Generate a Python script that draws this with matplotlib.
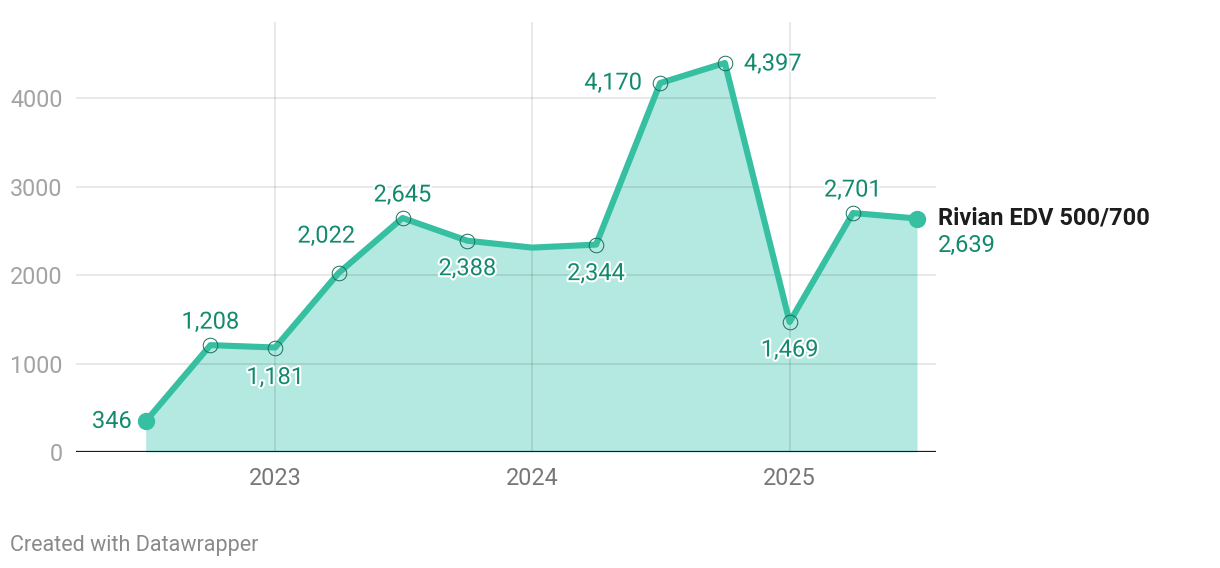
import matplotlib.pyplot as plt
import matplotlib.dates as mdates
import matplotlib.patheffects as pe
import pandas as pd

plt.rcParams['font.family'] = ['Roboto', 'DejaVu Sans']

# quarterly deliveries, Rivian EDV 500/700
quarters = ["2022-07-01", "2022-10-01", "2023-01-01", "2023-04-01", "2023-07-01",
            "2023-10-01", "2024-01-01", "2024-04-01", "2024-07-01", "2024-10-01",
            "2025-01-01", "2025-04-01", "2025-07-01"]
values = [346, 1208, 1181, 2022, 2645, 2388, 2310, 2344, 4170, 4397, 1469, 2701, 2639]
# label offsets in pixels (dx, dy, ha); None = no label
label_pos = [(-14, 0, 'right'), (0, 23, 'center'), (0, -30, 'center'), (-12, 37, 'center'),
             (0, 23, 'center'), (0, -28, 'center'), None, (0, -29, 'center'),
             (-18, 0, 'right'), (19, -1, 'left'), (0, -28, 'center'), (0, 23, 'center'), None]
series_name = "Rivian EDV 500/700"
year_ticks = ["2023-01-01", "2024-01-01", "2025-01-01"]
year_labels = ["2023", "2024", "2025"]

line_col = '#36bfa0'
fill_col = '#b3e9e0'
label_col = '#138a6e'

dates = pd.to_datetime(quarters)
x = mdates.date2num(dates)

fig = plt.figure(figsize=(12.2, 5.68), dpi=100)
ax = fig.add_axes([76 / 1220, 1 - 452 / 568, 860 / 1220, 430 / 568])

ax.fill_between(x, values, 0, color=fill_col, lw=0, zorder=1)
ax.plot(x, values, color=line_col, lw=4.4, solid_joinstyle='round', zorder=3)

# open circles on labeled points, filled ends
for i, (xi, v) in enumerate(zip(x, values)):
    if i in (0, len(values) - 1):
        ax.plot(xi, v, 'o', ms=11.5, color=line_col, zorder=4)
    elif label_pos[i] is not None:
        ax.plot(xi, v, 'o', ms=10.5, mfc='none', mec='#1b6f5c', mew=0.7, zorder=4)

stroke = [pe.withStroke(linewidth=3, foreground='white')]
for xi, v, lp in zip(x, values, label_pos):
    if lp is None:
        continue
    dx, dy, ha = lp
    ax.annotate(f"{v:,}", (xi, v), xytext=(dx, dy), textcoords='offset pixels',
                ha=ha, va='center', fontsize=17, color=label_col,
                path_effects=stroke, zorder=5)

ax.annotate(series_name, (x[-1], values[-1]), xytext=(21, 1), textcoords='offset pixels',
            ha='left', va='center', fontsize=17, fontweight='bold', color='#1d1d1d',
            annotation_clip=False)
ax.annotate(f"{values[-1]:,}", (x[-1], values[-1]), xytext=(21, -27), textcoords='offset pixels',
            ha='left', va='center', fontsize=17, color=label_col, annotation_clip=False)

ax.set_xlim(mdates.date2num(pd.Timestamp("2022-03-24")), mdates.date2num(pd.Timestamp("2025-07-28")))
ax.set_ylim(0, 4860)

ax.set_yticks([0, 1000, 2000, 3000, 4000])
ax.set_yticklabels(["0", "1000", "2000", "3000", "4000"])
ax.set_xticks(mdates.date2num(pd.to_datetime(year_ticks)))
ax.set_xticklabels(year_labels)
ax.tick_params(axis='y', length=0, pad=9.5, labelsize=16.8, labelcolor='#a3a3a3')
ax.tick_params(axis='x', length=0, pad=11, labelsize=16.8, labelcolor='#777777')

ax.grid(True, color='black', alpha=0.1, lw=1.2, zorder=2)
ax.set_axisbelow(False)
for s in ax.spines.values():
    s.set_visible(False)
ax.axhline(0, color='#1a1a1a', lw=1.6, zorder=6)

fig.text(10 / 1220, 1 - 545 / 568, "Created with Datawrapper", fontsize=15.5,
         color='#8a8a8a', ha='left', va='center')

fig.savefig("out.png", dpi=100)
